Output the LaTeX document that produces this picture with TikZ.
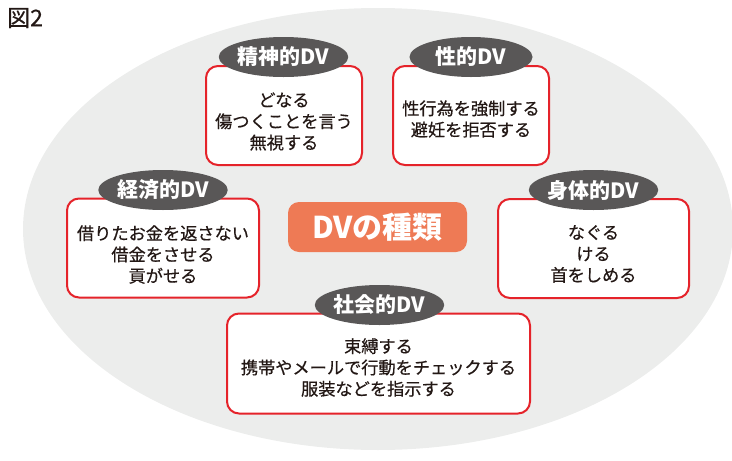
\documentclass[tikz,border=0pt]{standalone}
\usepackage{fontspec}
\setmainfont{Noto Sans CJK JP}
\newfontfamily\jpmed[FakeBold=0.5]{Noto Sans CJK JP}
\usetikzlibrary{shapes.geometric}
\definecolor{bgell}{HTML}{ECEDEC}
\definecolor{boxred}{HTML}{E5232A}
\definecolor{labgray}{HTML}{595757}
\definecolor{centorange}{HTML}{EE7A55}
\definecolor{txt}{HTML}{231815}
\tikzset{
  redbox/.style={draw=boxred, line width=2pt, fill=white, rounded corners=12pt, inner sep=0pt},
  boxtext/.style={align=center, text=txt, inner sep=0pt, font=\jpmed\fontsize{17.2}{21.3}\selectfont},
  labell/.style={ellipse, fill=labgray, inner sep=0pt, minimum width=123pt, minimum height=40pt, text=white, font=\fontsize{21}{22}\selectfont\bfseries},
}
\begin{document}
\begin{tikzpicture}[x=1pt,y=-1pt]
\useasboundingbox (0,0) rectangle (732,461);
\fill[bgell] (378,229) ellipse [x radius=355, y radius=221];
\node[anchor=west, text=txt, inner sep=0pt, font=\jpmed\fontsize{23}{24}\selectfont] (title) at (7,18) {図2};
% center
\node[fill=centorange, rounded corners=11pt, minimum width=179pt, minimum height=50pt, inner sep=0pt, text=white, font=\fontsize{30}{32}\selectfont\bfseries] (center) at (377.5,227) {DVの種類};
% boxes
\node[redbox, minimum width=156pt, minimum height=99pt] (b1) at (284,115.5) {};
\node[redbox, minimum width=156pt, minimum height=99pt] (b2) at (471,115.5) {};
\node[redbox, minimum width=192pt, minimum height=99pt] (b3) at (163,248) {};
\node[redbox, minimum width=191pt, minimum height=99pt] (b4) at (593.5,248.5) {};
\node[redbox, minimum width=303pt, minimum height=100pt] (b5) at (378.5,363.5) {};
% labels
\node[labell] (l1) at (283.5,57) {精神的DV};
\node[labell] (l2) at (471,57) {性的DV};
\node[labell] (l3) at (163,190) {経済的DV};
\node[labell] (l4) at (593.5,190) {身体的DV};
\node[labell] (l5) at (379.5,305) {社会的DV};
% texts
\node[boxtext] (t1) at (284,121.5) {どなる\\傷つくことを言う\\無視する};
\node[boxtext] (t2) at (471,119) {性行為を強制する\\避妊を拒否する};
\node[boxtext] (t3) at (163,254.5) {借りたお金を返さない\\借金をさせる\\貢がせる};
\node[boxtext] (t4) at (593.5,254) {なぐる\\ける\\首をしめる};
\node[boxtext] (t5) at (378.5,367.5) {束縛する\\携帯やメールで行動をチェックする\\服装などを指示する};
\end{tikzpicture}
\end{document}
